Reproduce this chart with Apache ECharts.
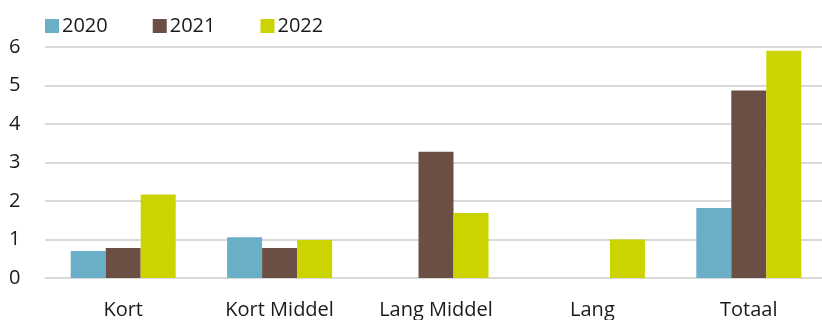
<!DOCTYPE html>
<html>
<head>
<meta charset="utf-8">
<script src="https://cdn.jsdelivr.net/npm/echarts@6/dist/echarts.min.js"></script>
<style>
  html, body { margin: 0; padding: 0; background: #fff; }
  #chart { width: 822px; height: 320px; }
</style>
</head>
<body>
<div id="chart"></div>
<script>
const categories = ['Kort', 'Kort Middel', 'Lang Middel', 'Lang', 'Totaal']
const years = ['2020', '2021', '2022']
const values2020 = [0.70, 1.06, null, null, 1.82]
const values2021 = [0.78, 0.78, 3.28, null, 4.87]
const values2022 = [2.17, 0.99, 1.69, 1.0, 5.9]
const colors = ['#6aaec8', '#6b4f44', '#ccd400']

const myChart = echarts.init(document.getElementById('chart'))
const font = 'Open Sans'

const option = {
  animation: false,
  backgroundColor: '#fff',
  color: colors,
  textStyle: { fontFamily: font },
  legend: {
    left: 40,
    top: 11,
    itemWidth: 14,
    itemHeight: 14,
    itemGap: 45,
    icon: 'rect',
    textStyle: { color: '#1a1a1a', fontSize: 20, fontFamily: font, width: 48, padding: [0, 0, 0, -2] },
    data: years
  },
  grid: {
    top: 47,
    left: 45,
    right: -5,
    bottom: 42,
    outerBoundsMode: 'none'
  },
  xAxis: {
    type: 'category',
    data: categories,
    axisLine: { show: false },
    axisTick: { show: false },
    axisLabel: { color: '#1a1a1a', fontSize: 20, margin: 22, fontFamily: font }
  },
  yAxis: {
    type: 'value',
    min: 0,
    max: 6,
    interval: 1,
    axisLine: { show: false },
    axisTick: { show: false },
    axisLabel: { color: '#1a1a1a', fontSize: 20, margin: 36, align: 'left', fontFamily: font },
    splitLine: { lineStyle: { color: '#d9d9d9', width: 2 } }
  },
  series: [
    { name: '2020', type: 'bar', data: values2020, barWidth: 35, barGap: '0%' },
    { name: '2021', type: 'bar', data: values2021, barWidth: 35, barGap: '0%' },
    { name: '2022', type: 'bar', data: values2022, barWidth: 35, barGap: '0%' }
  ]
}
myChart.setOption(option)
</script>
</body>
</html>
